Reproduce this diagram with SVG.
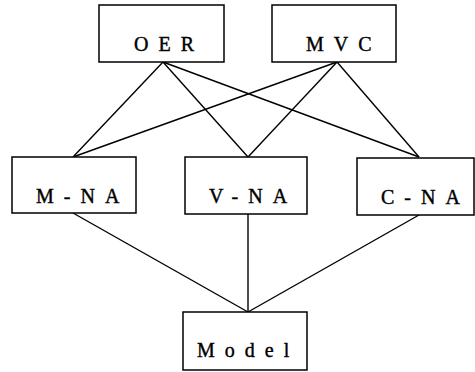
<svg xmlns="http://www.w3.org/2000/svg" width="475" height="372" viewBox="0 0 475 372">
<style>
.box{fill:#fff;stroke:#000;stroke-width:1.5}
.lbl{font-family:"Liberation Serif",serif;font-size:20px;letter-spacing:10px;fill:#000;stroke:#000;stroke-width:0.4}
.edge{stroke:#000;stroke-width:1.4;fill:none}
</style>
<rect width="475" height="372" fill="#fff"/>
<g id="connectors">
<line class="edge" x1="163" y1="62" x2="73" y2="157"/>
<line class="edge" x1="163" y1="62" x2="248" y2="157"/>
<line class="edge" x1="163" y1="62" x2="419" y2="157"/>
<line class="edge" x1="337" y1="62" x2="73" y2="157"/>
<line class="edge" x1="337" y1="62" x2="248" y2="157"/>
<line class="edge" x1="337" y1="62" x2="419" y2="157"/>
<line class="edge" x1="73" y1="213" x2="248" y2="312"/>
<line class="edge" x1="248" y1="214" x2="248" y2="312"/>
<line class="edge" x1="419" y1="215" x2="248" y2="312"/>
</g>
<g id="OER"><rect class="box" x="99" y="5" width="125" height="57"/><text class="lbl" x="134" y="51">OER</text></g>
<g id="MVC"><rect class="box" x="272" y="5" width="124" height="57"/><text class="lbl" x="306" y="51">MVC</text></g>
<g id="M-NA"><rect class="box" x="12" y="157" width="124" height="56"/><text class="lbl" x="36" y="203">M-NA</text></g>
<g id="V-NA"><rect class="box" x="185" y="157" width="122" height="57"/><text class="lbl" x="209" y="203">V-NA</text></g>
<g id="C-NA"><rect class="box" x="357" y="158" width="117" height="57"/><text class="lbl" x="381" y="204">C-NA</text></g>
<g id="Model"><rect class="box" x="183" y="312" width="124" height="58"/><text class="lbl" x="197" y="357">Model</text></g>
</svg>
